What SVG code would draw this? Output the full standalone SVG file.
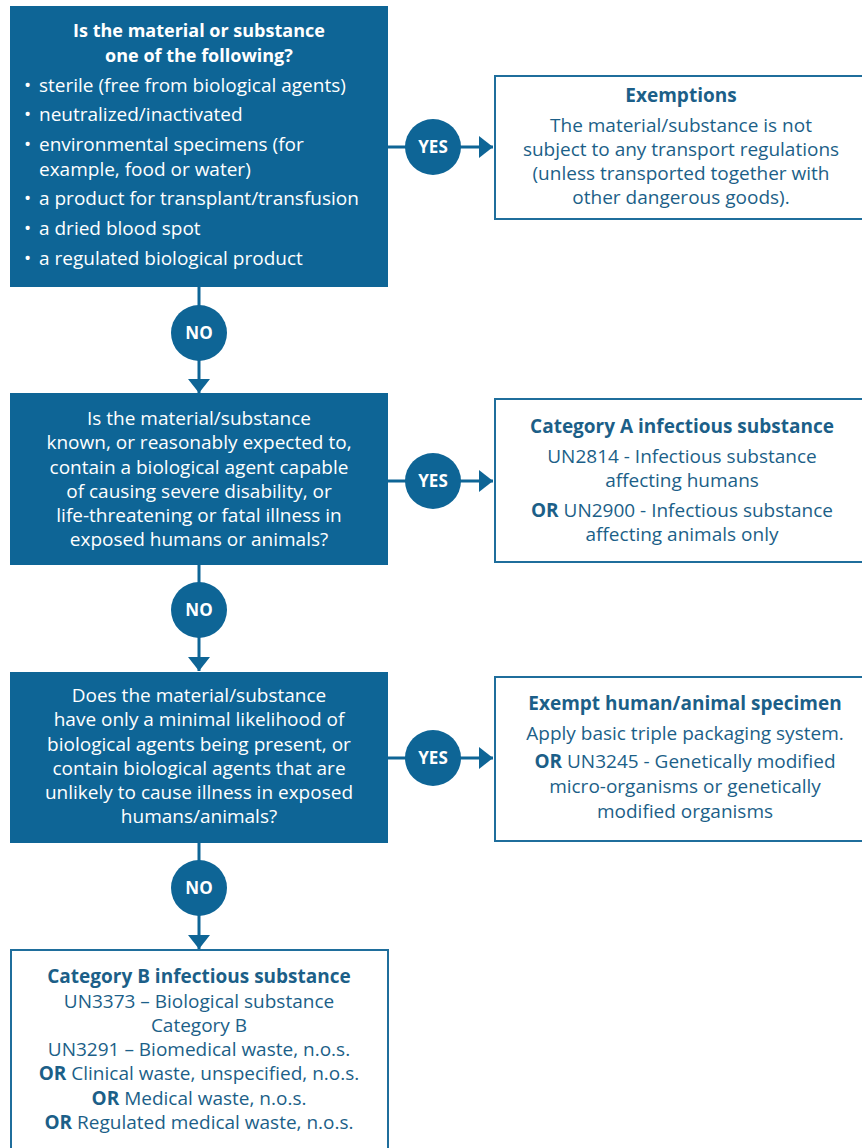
<svg xmlns="http://www.w3.org/2000/svg" width="862" height="1148" viewBox="0 0 862 1148">
<style>
.q{fill:#0e6596}
.r{fill:#fff;stroke:#1f6e9c;stroke-width:2}
.t{font-family:"Open Sans",Lato,sans-serif;font-size:19px}
.w{fill:#fff}
.b{fill:#1c5f88}
.bd{font-weight:bold}
.c{text-anchor:middle}
.ln{stroke:#0e6596;stroke-width:3;fill:none}
.dot{fill:#0e6596}
.lbl{font-family:"Open Sans",Lato,sans-serif;font-size:17px;font-weight:bold;fill:#fff;text-anchor:middle}
</style>
<defs>
<marker id="ah" viewBox="0 0 14 22" refX="14" refY="11" markerWidth="14" markerHeight="22" markerUnits="userSpaceOnUse" orient="auto">
<path d="M0,0 L14,11 L0,22 Z" fill="#0e6596"/>
</marker>
</defs>
<g id="connectors">
<path class="ln" d="M388,147 L493,147" marker-end="url(#ah)"/>
<path class="ln" d="M199,287 L199,393" marker-end="url(#ah)"/>
<path class="ln" d="M388,481 L493,481" marker-end="url(#ah)"/>
<path class="ln" d="M199,565 L199,671" marker-end="url(#ah)"/>
<path class="ln" d="M388,758 L493,758" marker-end="url(#ah)"/>
<path class="ln" d="M199,843 L199,949" marker-end="url(#ah)"/>
<circle class="dot" cx="433" cy="147" r="28"/><text class="lbl" x="433" y="153">YES</text>
<circle class="dot" cx="199" cy="333" r="28"/><text class="lbl" x="199" y="339">NO</text>
<circle class="dot" cx="433" cy="481" r="28"/><text class="lbl" x="433" y="487">YES</text>
<circle class="dot" cx="199" cy="610" r="28"/><text class="lbl" x="199" y="616">NO</text>
<circle class="dot" cx="433" cy="758" r="28"/><text class="lbl" x="433" y="764">YES</text>
<circle class="dot" cx="199" cy="888" r="28"/><text class="lbl" x="199" y="894">NO</text>
</g>
<g id="q1">
<rect class="q" x="10" y="6" width="378" height="281"/>
<text class="t w bd c" x="199" y="37" style="font-size:18px">Is the material or substance</text>
<text class="t w bd c" x="199" y="62" style="font-size:18px">one of the following?</text>
<g class="t w">
<text x="24" y="92">•</text><text x="39" y="92">sterile (free from biological agents)</text>
<text x="24" y="121">•</text><text x="39" y="121">neutralized/inactivated</text>
<text x="24" y="151">•</text><text x="39" y="151">environmental specimens (for</text>
<text x="39" y="176">example, food or water)</text>
<text x="24" y="205">•</text><text x="39" y="205">a product for transplant/transfusion</text>
<text x="24" y="235">•</text><text x="39" y="235">a dried blood spot</text>
<text x="24" y="265">•</text><text x="39" y="265">a regulated biological product</text>
</g>
</g>
<g id="exemptions">
<rect class="r" x="495" y="76" width="380" height="143"/>
<text class="t b bd c" x="681" y="102">Exemptions</text>
<text class="t b c" x="681" y="132">The material/substance is not</text>
<text class="t b c" x="681" y="156">subject to any transport regulations</text>
<text class="t b c" x="681" y="180">(unless transported together with</text>
<text class="t b c" x="681" y="204">other dangerous goods).</text>
</g>
<g id="q2">
<rect class="q" x="10" y="393" width="378" height="172"/>
<text class="t w c" x="199" y="425">Is the material/substance</text>
<text class="t w c" x="199" y="449">known, or reasonably expected to,</text>
<text class="t w c" x="199" y="474">contain a biological agent capable</text>
<text class="t w c" x="199" y="498">of causing severe disability, or</text>
<text class="t w c" x="199" y="522">life-threatening or fatal illness in</text>
<text class="t w c" x="199" y="546">exposed humans or animals?</text>
</g>
<g id="catA">
<rect class="r" x="495" y="399" width="380" height="163"/>
<text class="t b bd c" x="682" y="433">Category A infectious substance</text>
<text class="t b c" x="682" y="463">UN2814 - Infectious substance</text>
<text class="t b c" x="682" y="487">affecting humans</text>
<text class="t b c" x="682" y="517"><tspan class="bd">OR</tspan> UN2900 - Infectious substance</text>
<text class="t b c" x="682" y="541">affecting animals only</text>
</g>
<g id="q3">
<rect class="q" x="10" y="672" width="378" height="171"/>
<text class="t w c" x="199" y="702">Does the material/substance</text>
<text class="t w c" x="199" y="726">have only a minimal likelihood of</text>
<text class="t w c" x="199" y="751">biological agents being present, or</text>
<text class="t w c" x="199" y="775">contain biological agents that are</text>
<text class="t w c" x="199" y="799">unlikely to cause illness in exposed</text>
<text class="t w c" x="199" y="823">humans/animals?</text>
</g>
<g id="exempt">
<rect class="r" x="495" y="677" width="380" height="164"/>
<text class="t b bd c" x="685" y="710">Exempt human/animal specimen</text>
<text class="t b c" x="685" y="740">Apply basic triple packaging system.</text>
<text class="t b c" x="685" y="768"><tspan class="bd">OR</tspan> UN3245 - Genetically modified</text>
<text class="t b c" x="685" y="793">micro-organisms or genetically</text>
<text class="t b c" x="685" y="818">modified organisms</text>
</g>
<g id="catB">
<rect class="r" x="11" y="950" width="377" height="220"/>
<text class="t b bd c" x="199" y="983">Category B infectious substance</text>
<text class="t b c" x="199" y="1008">UN3373 – Biological substance</text>
<text class="t b c" x="199" y="1032">Category B</text>
<text class="t b c" x="199" y="1056">UN3291 – Biomedical waste, n.o.s.</text>
<text class="t b c" x="199" y="1080"><tspan class="bd">OR</tspan> Clinical waste, unspecified, n.o.s.</text>
<text class="t b c" x="199" y="1105"><tspan class="bd">OR</tspan> Medical waste, n.o.s.</text>
<text class="t b c" x="199" y="1129"><tspan class="bd">OR</tspan> Regulated medical waste, n.o.s.</text>
</g>
</svg>
